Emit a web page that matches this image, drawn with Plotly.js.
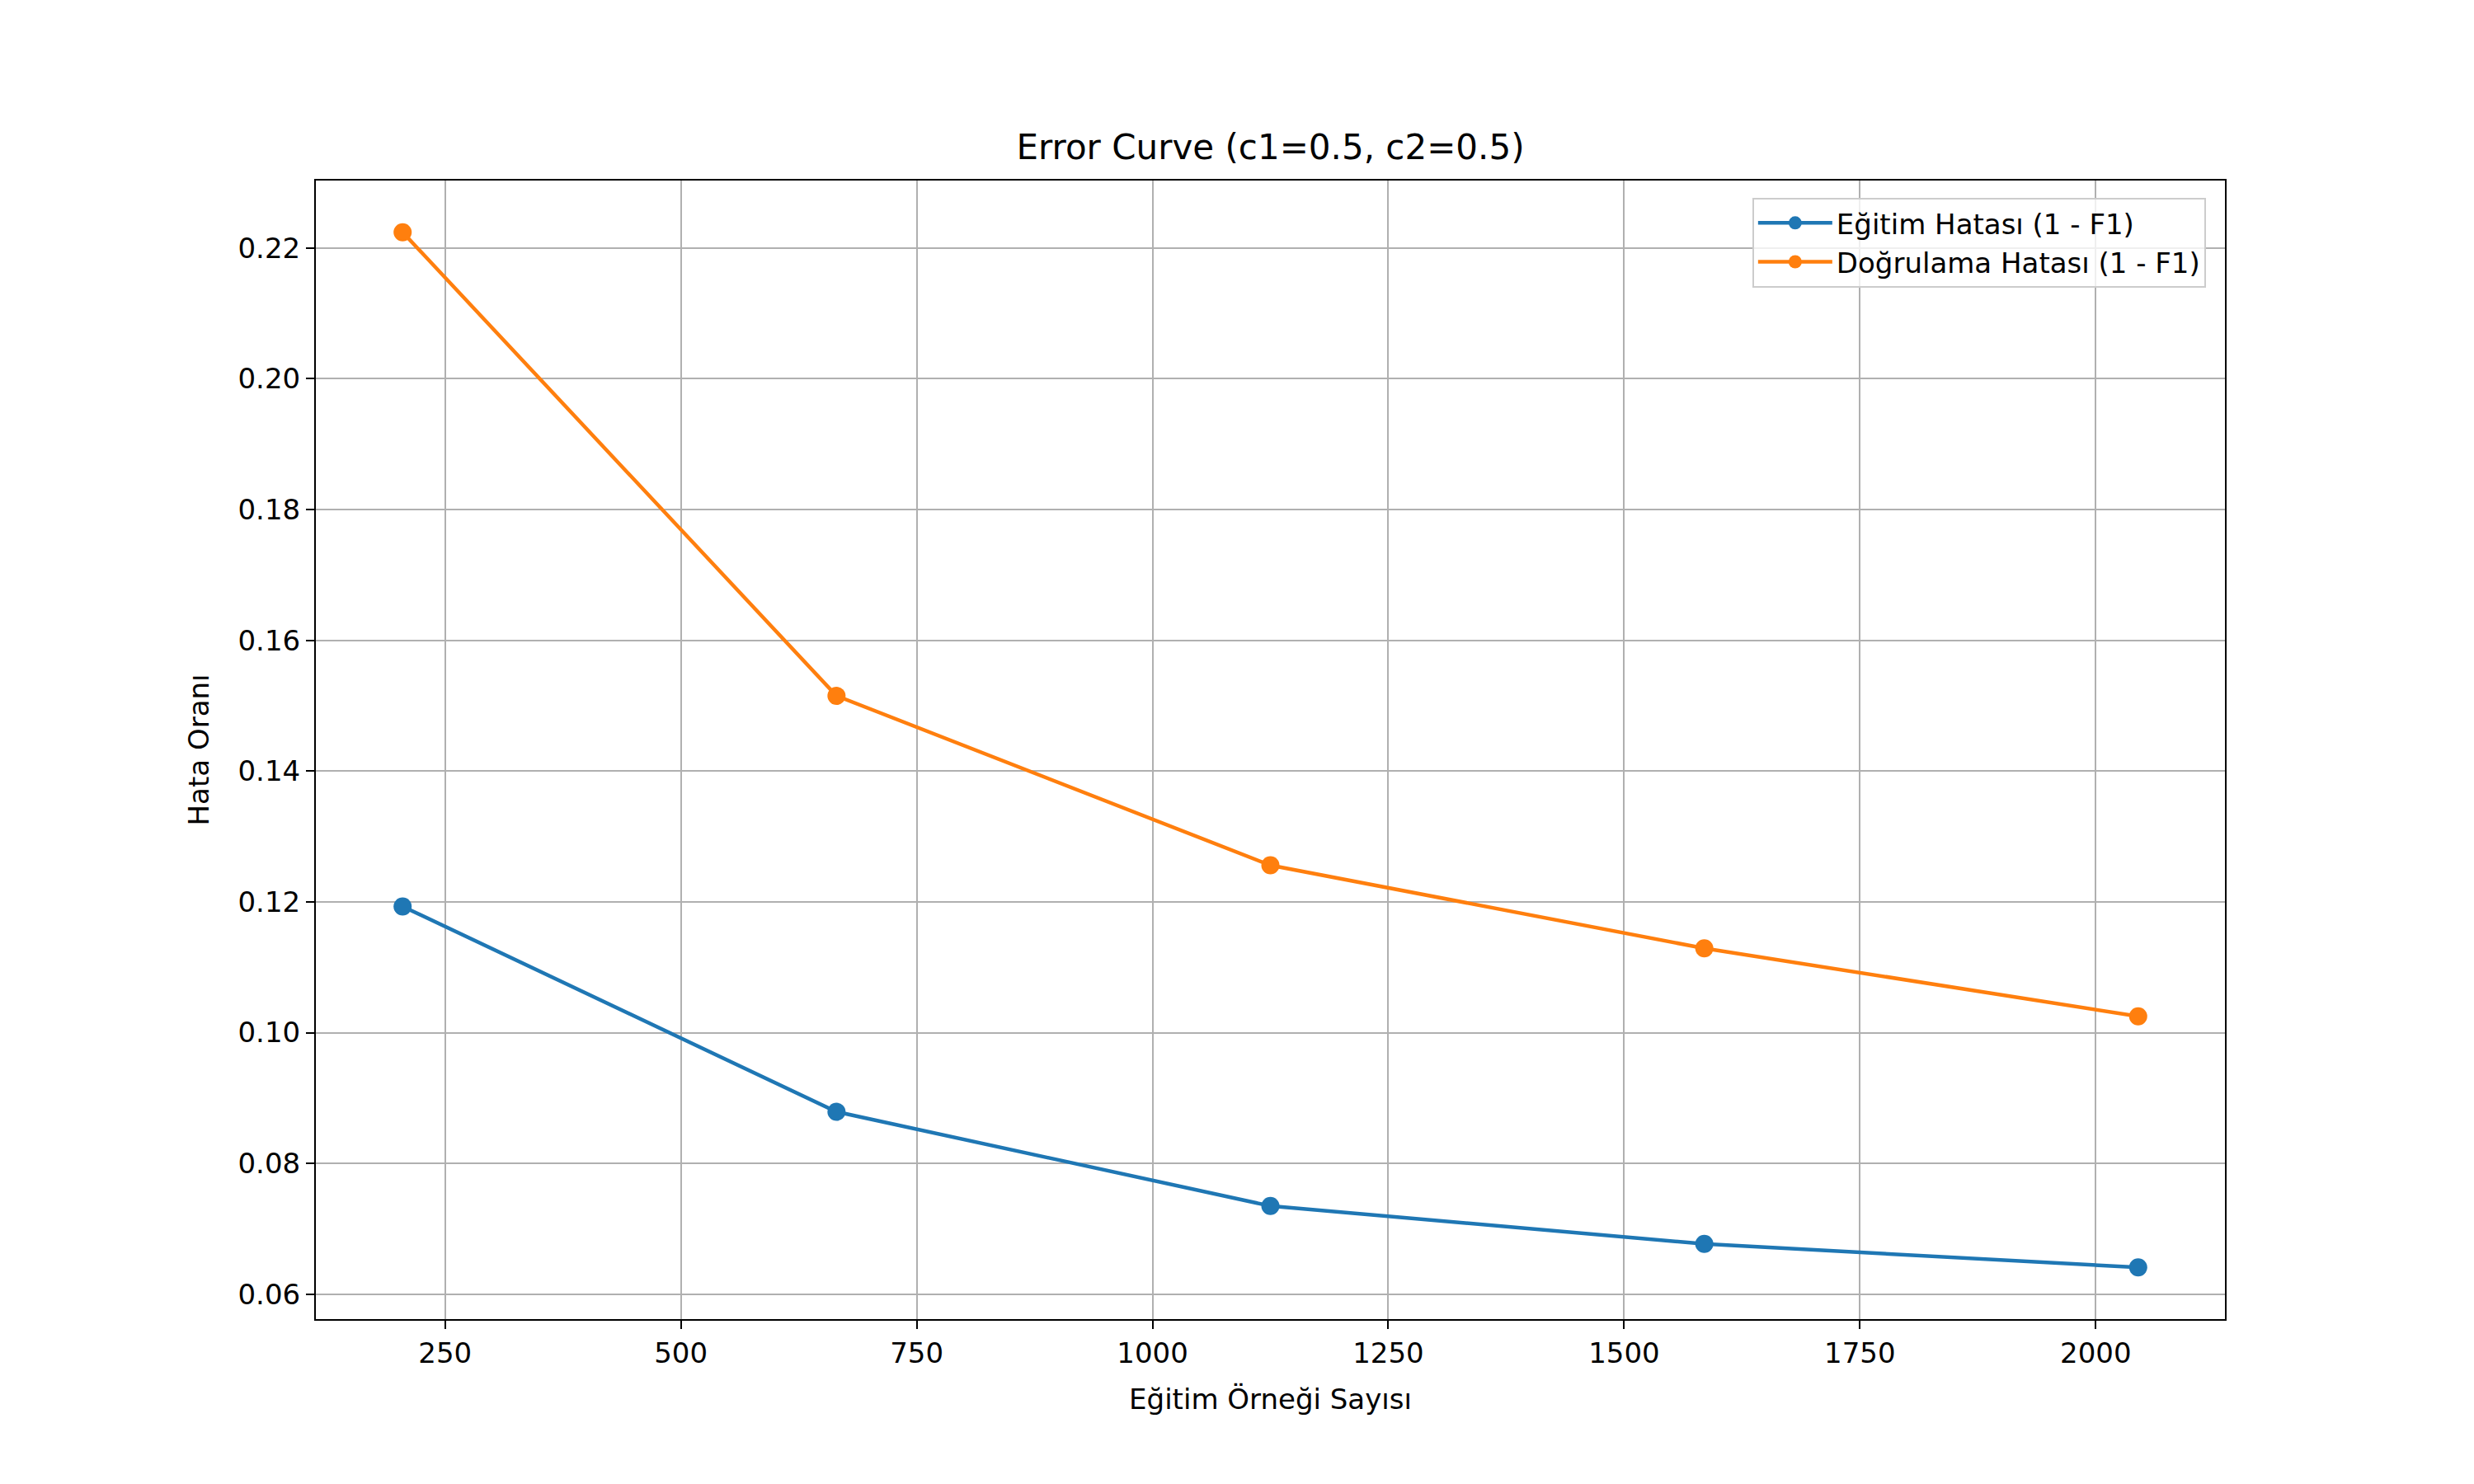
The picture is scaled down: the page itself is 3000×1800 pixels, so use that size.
<!DOCTYPE html>
<html><head><meta charset="utf-8">
<script src="https://cdn.plot.ly/plotly-3.0.1.min.js"></script>
<style>body{margin:0}#c{width:3000px;height:1800px}</style></head>
<body><div id="c"></div>
<script>
const samples = [205, 665, 1125, 1585, 2045];
const trainErr = [0.1193, 0.0879, 0.0735, 0.0677, 0.0641];
const valErr = [0.2224, 0.1515, 0.1256, 0.1129, 0.1025];
const yTicks = [0.06,0.08,0.10,0.12,0.14,0.16,0.18,0.20,0.22];
const xTicks = [250,500,750,1000,1250,1500,1750,2000];
const F = 'DejaVu Sans, sans-serif';
const mk = (x,y,name,color)=>({x,y,name,type:'scatter',mode:'lines+markers',
  line:{color,width:4.5},marker:{color,size:22}});
const ax = {showline:true,linecolor:'#000',linewidth:2,mirror:true,ticks:'outside',ticklen:10,tickwidth:2,
  tickcolor:'#000',showgrid:true,gridcolor:'#b0b0b0',gridwidth:2.2,zeroline:false,tickfont:{family:F,size:34,color:'#000'}};
Plotly.newPlot('c',[mk(samples,trainErr,'Eğitim Hatası (1 - F1)','#1f77b4'),mk(samples,valErr,'Doğrulama Hatası (1 - F1)','#ff7f0e')],{
  width:3000,height:1800,paper_bgcolor:'#fff',plot_bgcolor:'#fff',
  margin:{l:383,r:302,t:219,b:200},
  title:{text:'Error Curve (c1=0.5, c2=0.5)',font:{family:F,size:42,color:'#000'},x:(383+(3000-302))/2/3000,xanchor:'center',y:1-(178/1800),yanchor:'middle'},
  xaxis:Object.assign({},ax,{range:[113,2137],tickvals:xTicks,ticktext:xTicks.map(String),
    title:{text:'Eğitim Örneği Sayısı',font:{family:F,size:34,color:'#000'},standoff:25}}),
  yaxis:Object.assign({},ax,{range:[0.0562,0.2303],tickvals:yTicks,ticktext:yTicks.map(v=>v.toFixed(2)),
    title:{text:'Hata Oranı',font:{family:F,size:34,color:'#000'},standoff:25}}),
  legend:{x:0.99,xanchor:'right',y:0.985,yanchor:'top',bgcolor:'rgba(255,255,255,0.8)',bordercolor:'#ccc',borderwidth:2,
    font:{family:F,size:34,color:'#000'},itemwidth:90,tracegroupgap:10},
  showlegend:true
},{displayModeBar:false});
</script></body></html>
